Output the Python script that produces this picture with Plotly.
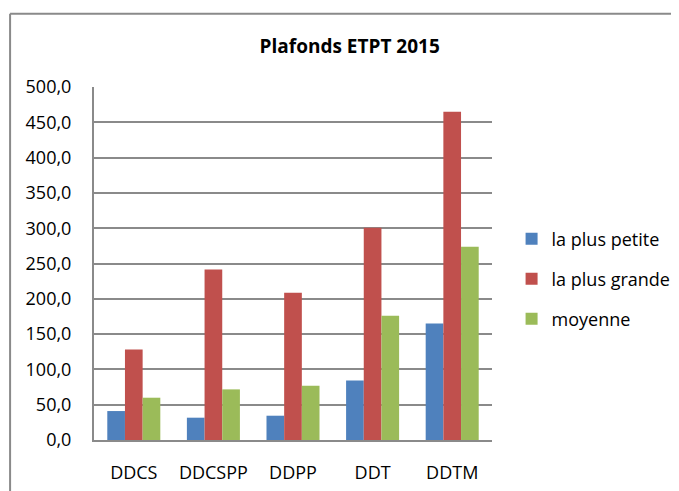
import plotly.graph_objects as go

categories = ["DDCS", "DDCSPP", "DDPP", "DDT", "DDTM"]
la_plus_petite = [41.0, 31.6, 34.4, 84.4, 165.1]
la_plus_grande = [128.3, 241.5, 208.5, 300.5, 464.8]
moyenne = [59.9, 71.7, 76.9, 176.0, 273.6]
series_names = ["la plus petite", "la plus grande", "moyenne"]
colors = ["#4F81BD", "#C0504D", "#9BBB59"]
y_ticks = [0, 50, 100, 150, 200, 250, 300, 350, 400, 450, 500]

FONT = "Open Sans"
GRID = "#8A8A8A"

fig = go.Figure()
for i, (name, vals) in enumerate(zip(series_names, [la_plus_petite, la_plus_grande, moyenne])):
    fig.add_trace(go.Bar(x=categories, y=vals, name=name, legendgroup=name,
                         marker=dict(color=colors[i], line=dict(width=0))))

# page body has an 8px margin; figure coordinates below are screen - 8
W, H = 671, 483
L, T = 86, 79.3
R = W - 484.4
B = H - 432.4
pw, ph = W - L - R, H - T - B

def px_to_paper_x(px):
    return (px - L) / pw

def px_to_paper_y(py):
    return (H - B - py) / ph

fig.update_layout(
    width=W, height=H,
    margin=dict(l=L, r=R, t=T, b=B, autoexpand=False),
    paper_bgcolor="white", plot_bgcolor="white",
    separators=", ",
    font=dict(family=FONT, size=18, color="#000000"),
    barmode="group", bargap=0.334, bargroupgap=0,
    title=dict(text="<b>Plafonds ETPT 2015</b>", x=341.7 / W, xanchor="center",
               y=1 - 38.5 / H, yanchor="middle", font=dict(family=FONT, size=19)),
    showlegend=True,
    legend=dict(x=px_to_paper_x(504), y=px_to_paper_y(213), xanchor="left", yanchor="top",
                traceorder="grouped", tracegroupgap=13.5, font=dict(family=FONT, size=18),
                itemwidth=30, bgcolor="rgba(0,0,0,0)"),
    xaxis=dict(showgrid=False, showline=True, linecolor=GRID, linewidth=2,
               ticks="", ticklabelstandoff=15),
    yaxis=dict(range=[0, 500], tickvals=y_ticks, tickformat=".1f", showgrid=True,
               gridcolor=GRID, gridwidth=1.8, showline=True, linecolor=GRID,
               linewidth=2, zeroline=False, ticks="", ticklabelstandoff=17),
)

# outer chart border (partly outside the window)
fig.add_shape(type="line", xref="paper", yref="paper",
              x0=px_to_paper_x(2), x1=px_to_paper_x(720),
              y0=px_to_paper_y(6), y1=px_to_paper_y(6),
              line=dict(color=GRID, width=2))
fig.add_shape(type="line", xref="paper", yref="paper",
              x0=px_to_paper_x(2), x1=px_to_paper_x(2),
              y0=px_to_paper_y(6), y1=px_to_paper_y(520),
              line=dict(color=GRID, width=2))

fig.write_html("out.html")
